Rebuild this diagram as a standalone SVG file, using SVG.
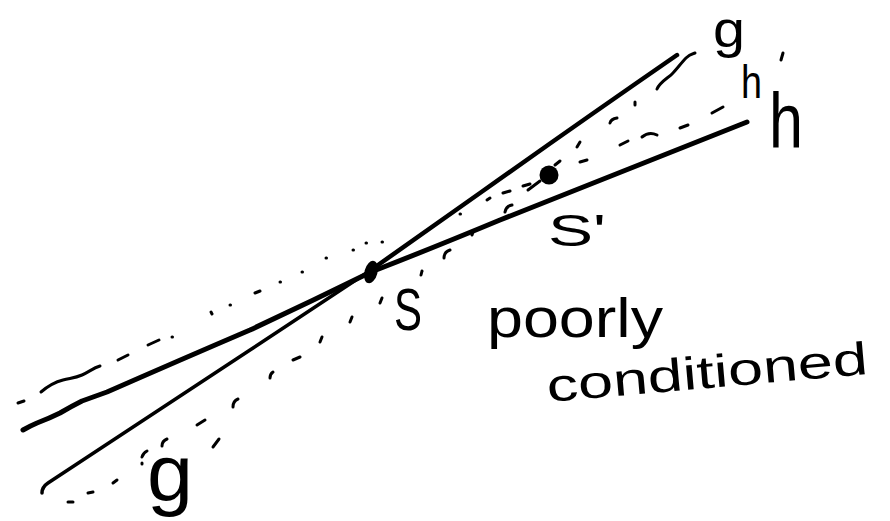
<svg xmlns="http://www.w3.org/2000/svg" width="890" height="521" viewBox="0 0 890 521">
<style>
  .ln{fill:none;stroke:#000;stroke-linecap:round;stroke-linejoin:round}
  .d{fill:none;stroke:#000;stroke-width:3;stroke-linecap:round;stroke-linejoin:round}
  .lbl{font-family:"Liberation Sans",Arial,sans-serif;fill:#000}
</style>
<rect width="890" height="521" fill="#fff"/>
<g id="connectors">
  <g id="line-h">
    <path class="ln" stroke-width="5" d="M23,430 Q30,426 37,423 Q50,418 60,413 Q72,406 82,401 L107,392 Q180,360 250,330 Q310,302 371,272 Q440,245 500,220 Q620,172 747,122"/>
  </g>
  <g id="line-g">
    <path class="ln" stroke-width="3.5" d="M42,493 Q42,487 48,483 L250,350 L371,270"/>
    <path class="ln" stroke-width="4.5" d="M371,270 L480,193 Q580,122 677,55"/>
  </g>
  <g id="line-h-prime">
    <path class="d" d="M18,403 L24,401"/>
    <path class="d" stroke-width="2.5" d="M41,392 C48,386 55,382 63,380 S75,378 82,375 S93,368 100,366"/>
    <path class="d" d="M118,360 L128,355"/>
    <path class="d" d="M148,345 L159,340"/>
    <path class="d" d="M172,337 L172.5,337"/>
    <path class="d" d="M211,312 L212,314"/>
    <path class="d" d="M230,305 L230.5,305"/>
    <path class="d" d="M255,293 L260,291"/>
    <path class="d" d="M280,282 L280.5,282"/>
    <path class="d" d="M302,272 L302.5,272"/>
    <path class="d" d="M326,258 L326.5,258"/>
    <path class="d" d="M353,250 L353.5,250"/>
    <path class="d" d="M366,243 L366.5,243"/>
    <path class="d" d="M382,242 L382.5,242"/>
    <path class="d" d="M460,214 L460.5,214"/>
    <path class="d" d="M487,200 L490,198"/>
    <path class="d" d="M503,193 L510,191"/>
    <path class="d" d="M523,186 L530,184"/>
    <path class="d" stroke-width="2.5" d="M528,190 L540,181"/>
    <path class="d" d="M555,165 L560,161"/>
    <path class="d" d="M580,162 L587,160"/>
    <path class="d" d="M620,145 L628,141"/>
    <path class="d" d="M642,137 Q649,131 657,135"/>
    <path class="d" d="M680,128 L688,125"/>
    <path class="d" d="M712,113 L723,107"/>
    <path class="d" d="M783,53 L781,60"/>
  </g>
  <g id="line-g-prime">
    <path class="d" d="M68,502 L73,502"/>
    <path class="d" d="M88,493 L93,492"/>
    <path class="d" d="M113,483 L117,480"/>
    <path class="d" d="M142,463 L142,464"/>
    <path class="d" d="M142,457 Q143,453 147,451"/>
    <path class="d" d="M162,446 Q162,441 167,439"/>
    <path class="d" d="M197,425 L205,420"/>
    <path class="d" d="M213,447 L219,439"/>
    <path class="d" d="M233,407 Q233,401 238,399"/>
    <path class="d" d="M270,378 Q270,374 273,372"/>
    <path class="d" d="M293,360 L300,357"/>
    <path class="d" d="M320,342 L322,337"/>
    <path class="d" d="M350,322 L352,317"/>
    <path class="d" d="M380,303 L382,298"/>
    <path class="d" d="M421,275 L422,271"/>
    <path class="d" d="M444,258 Q444,252 450,250"/>
    <path class="d" d="M472,235 L473,232"/>
    <path class="d" d="M505,212 Q506,206 512,205"/>
    <path class="d" d="M577,147 L580,142"/>
    <path class="d" d="M610,123 Q611,119 617,118"/>
    <path class="d" d="M635,105 L635,102"/>
    <path class="d" stroke-width="2.5" d="M657,89 C660,82 668,78 672,74 S682,62 686,58 S692,54 695,53"/>
  </g>
</g>
<g id="point-s">
  <ellipse cx="371" cy="272" rx="6.5" ry="11.5" transform="rotate(15 371 272)" fill="#000"/>
</g>
<g id="point-s-prime">
  <circle cx="549" cy="175" r="9.5" fill="#000"/>
</g>
<g id="labels">
  <text id="label-g-top" class="lbl" x="713" y="47" font-size="52" textLength="32" lengthAdjust="spacingAndGlyphs">g</text>
  <text id="label-h-small" class="lbl" x="741" y="98" font-size="46" textLength="21" lengthAdjust="spacingAndGlyphs">h</text>
  <text id="label-h" class="lbl" x="769" y="148" font-size="78" textLength="34" lengthAdjust="spacingAndGlyphs">h</text>
  <text id="label-s-prime" class="lbl" x="548" y="246" font-size="44" textLength="58" lengthAdjust="spacingAndGlyphs">S'</text>
  <text id="label-s" class="lbl" x="394" y="330" font-size="60" textLength="28" lengthAdjust="spacingAndGlyphs">S</text>
  <text id="label-g-bottom" class="lbl" x="147" y="500" font-size="80" textLength="46" lengthAdjust="spacingAndGlyphs">g</text>
  <text id="label-poorly" class="lbl" x="487" y="337" font-size="56" textLength="176" lengthAdjust="spacingAndGlyphs">poorly</text>
  <text id="label-conditioned" class="lbl" x="548" y="402" font-size="46" textLength="322" lengthAdjust="spacingAndGlyphs" transform="rotate(-5 548 402)">conditioned</text>
</g>
</svg>
